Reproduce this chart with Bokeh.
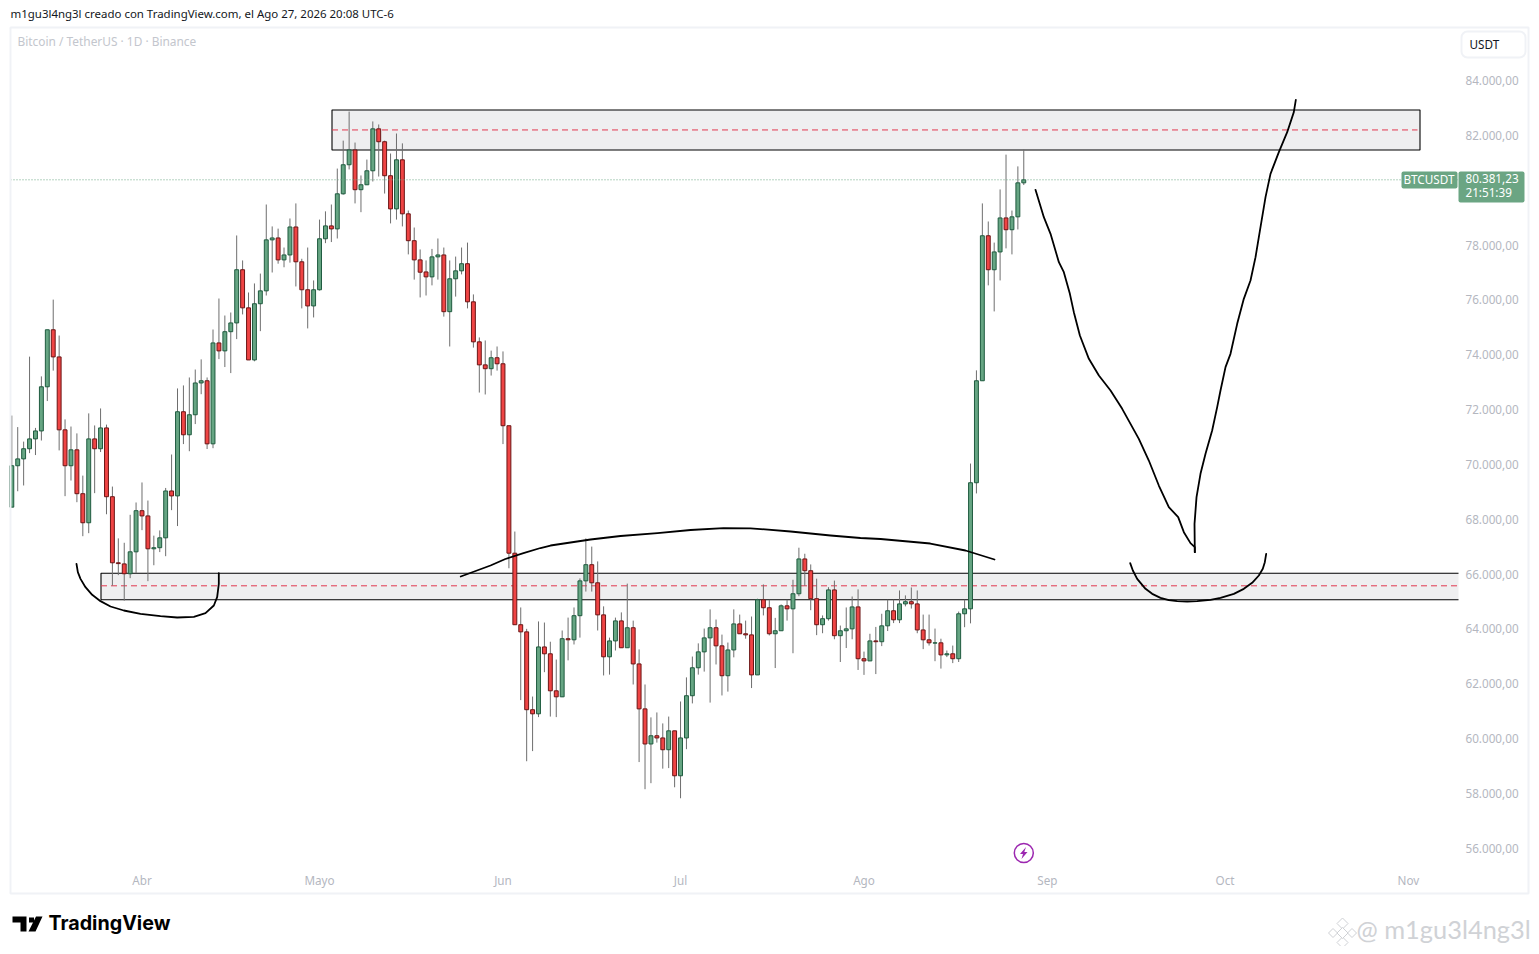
from bokeh.plotting import figure
from bokeh.models import (Range1d, LinearAxis, FixedTicker, Label, BoxAnnotation,
                          PolyAnnotation, ColumnDataSource)
from bokeh.embed import file_html
from bokeh.resources import INLINE

OPEN = [68440,69950,70200,70570,70930,71220,72830,74910,73920,71260,
69950,70530,68930,67870,70930,70570,71330,68820,66410,66370,
66010,66810,68310,68120,66920,66960,67320,69030,68850,71920,
71080,71810,72970,73050,70750,74430,74140,74840,75160,77100,
75710,73810,75860,76330,78190,78260,77460,77640,78660,77390,
76370,75780,76370,78230,78700,78590,79870,80930,81470,80020,
80200,80710,82240,81770,80530,79320,81110,79140,78160,77460,
77020,76840,77570,77640,75570,76770,77060,77320,75930,74470,
73630,73490,73890,73670,71410,66760,64150,63890,61050,60900,
63340,63090,61740,61520,63640,63600,64480,65750,66340,65680,
64510,62980,63560,64290,63310,64040,62720,61080,59800,60100,
60020,59590,60280,58640,60020,61560,62580,63160,63670,64040,
63380,62290,63230,64180,63820,63780,62320,65060,64770,63820,
63930,64840,64730,65280,66550,66120,65100,64150,64370,65420,
63750,63930,64000,64800,62910,62830,63560,63530,64110,64660,
64330,64910,64990,64910,63960,63600,63480,63490,63050,63090,
62910,64550,64730,69330,73050,78340,77100,77750,78990,78560,
79030,80270]
HIGH = [71780,71360,70830,73930,71330,73210,74910,76010,74700,71640,
71380,71130,69590,71860,71420,72040,71450,69190,67300,67140,
68160,68610,69340,68680,67400,67590,69140,70360,72770,72880,
73170,73460,73830,73170,74920,76050,75430,75540,78350,77440,
76270,76600,76960,79480,78680,78600,77910,78970,79520,77500,
77910,76710,78930,79230,79480,80790,81810,82870,81740,80540,
81120,82510,82400,81810,81340,82070,81710,79260,78640,77840,
77440,77860,78240,77910,77440,77580,77910,78090,76200,74630,
74520,74150,74300,74120,71410,67550,64780,64000,61530,64270,
64230,63530,62880,63940,64410,64780,65840,67300,67000,66460,
64820,63680,64410,64600,65650,64300,63250,61970,60770,60950,
60550,60800,60280,61350,62230,62990,63470,64010,64710,64340,
63790,63500,64710,64520,64300,64450,65100,65620,65060,64400,
64890,65060,65790,66960,66740,66350,65830,64490,65520,65760,
64120,64780,65180,65440,63170,63820,64070,64550,65060,65060,
65400,65220,65510,65400,64520,64520,64010,63640,63210,63390,
64630,65060,70030,73430,79520,78860,78090,80030,81300,79260,
80870,81490]
LOW = [68440,69020,69230,70410,70340,70870,72310,73420,70510,68840,
69410,68620,67380,67490,68950,70450,68180,65580,65960,65030,
65850,66030,67600,65740,66320,66800,66650,68330,67750,70740,
70480,71470,72560,70560,70590,73840,73550,73330,74570,75470,
73810,73760,74860,76160,77000,77320,77190,77360,76490,75690,
74960,75360,76340,78070,78110,78240,79840,80760,79520,79200,
80190,80320,80500,79880,78790,78930,78680,77660,76740,76090,
76160,76530,76740,75390,74300,76120,76930,75690,74260,72620,
72550,73240,73420,70740,66210,64150,61400,59170,59540,60780,
62420,60800,60780,61510,62850,63430,63680,65360,65360,63940,
62300,62330,63210,63310,63310,61970,59140,58150,58370,59850,
58900,58920,58220,57820,59610,61280,62330,62440,61310,62700,
61570,61710,62960,63820,63640,61840,62320,64490,63760,62570,
63930,64300,63110,65190,65570,64680,63770,63840,64300,63620,
62790,63300,63620,62500,62320,62830,62350,63370,63920,64210,
64210,64820,64740,63840,63260,63390,62820,62550,62970,62750,
62790,64060,64200,68940,73050,76530,75580,76710,77880,77660,
78570,80190]
CLOSE = [69950,70200,70570,70930,71220,72830,74910,73920,71260,69950,
70530,68930,67870,70930,70570,71330,68820,66410,66380,66010,
66810,68310,68120,66920,66960,67320,69030,68850,71920,71080,
71810,72970,73050,70750,74430,74140,74840,75160,77100,75710,
73810,75860,76330,78190,78260,77460,77640,78660,77390,76370,
75780,76370,78230,78700,78590,79870,80930,81470,80020,80200,
80710,82240,81770,80530,79320,81110,79140,78160,77460,77010,
76840,77570,77640,75570,76770,77060,77320,75930,74470,73630,
73490,73890,73670,71410,66760,64150,63890,61050,60900,63340,
63090,61740,61520,63640,63600,64480,65750,66340,65680,64510,
62980,63560,64290,63310,64040,62720,61080,59800,60100,60020,
59590,60280,58640,60020,61560,62580,63160,63670,64040,63380,
62290,63230,64180,63820,63780,62320,65060,64770,63820,63930,
64840,64730,65280,66550,66120,65100,64150,64370,65420,63750,
63930,64000,64800,62910,62830,63560,63530,64110,64660,64330,
64910,64990,64910,63960,63600,63490,63490,63050,63090,62910,
64550,64730,69330,73050,78340,77100,77750,78990,78560,79030,
80270,80381]

PRICE_TICKS = [84000,82000,78000,76000,74000,72000,70000,68000,66000,64000,62000,60000,58000,56000]
PRICE_LABELS = ["84.000,00","82.000,00","78.000,00","76.000,00","74.000,00","72.000,00","70.000,00",
                "68.000,00","66.000,00","64.000,00","62.000,00","60.000,00","58.000,00","56.000,00"]
MONTH_TICKS = [22,52,83,113,144,175,205,236]
MONTH_LABELS = ["Abr","Mayo","Jun","Jul","Ago","Sep","Oct","Nov"]
LAST_PRICE = 80381.23

ZONE_HIGH_TOP, ZONE_HIGH_MID, ZONE_HIGH_BOTTOM = 82930, 82200, 81470
ZONE_LOW_TOP, ZONE_LOW_MID, ZONE_LOW_BOTTOM = 66030, 65570, 65060

BRACKET_X = [10.93,11.16,11.61,12.45,13.58,14.99,16.68,18.93,21.75,25.12,27.94,30.76,32.73,34.14,34.70,34.98,34.98]
BRACKET_Y = [66372,66068,65824,65520,65241,65010,64815,64669,64548,64463,64414,64438,64572,64852,65156,65642,66031]
ARCH_X = [75.86,80.89,83.4,86.46,89.34,91.03,97.79,102.86,109.11,114.7,120.27,124.82,131.6,138.34,143.4,146.8,155.2,161.15,166.05]
ARCH_Y = [65910,66311,66548,66760,66949,67040,67259,67387,67489,67606,67672,67668,67551,67405,67314,67278,67113,66858,66530]
DOWN_X = [172.98,174.39,175.52,176.93,177.77,178.79,179.46,180.48,182.0,183.69,185.66,187.63,190.44,
          192.13,193.82,195.51,197.09,198.05,199.17,199.9,199.9]
DOWN_Y = [80015,79018,78410,77377,77012,76221,75553,74701,73850,73242,72695,72026,70932,
          70141,69229,68439,68074,67527,67126,66980,66797]
UP_X = [199.9,199.85,200.19,200.86,201.71,202.83,203.68,204.24,205.09,205.93,207.06,208.18,209.31,
        210.16,211.0,211.85,212.69,214.1,215.51,216.63,216.97]
UP_Y = [66797,67831,68804,69655,70385,71236,72087,72695,73546,74033,75127,76039,76708,
        77559,78653,79748,80599,81389,82119,82849,83299]
BOWL_X = [188.98,189.43,190.16,191.57,192.7,194.1,195.51,196.92,198.61,200.3,202.55,204.24,206.5,208.18,209.59,210.72,211.39,211.73,211.96]
BOWL_Y = [66396,66129,65825,65460,65277,65131,65046,65010,64998,65010,65058,65131,65277,65460,65679,65946,66190,66433,66737]

W, H = 1531, 946
FR, FB = 1458, 866          # right and bottom of the price pane on the page
X0, XPX = 11.3, 5.918
Y84, YPX = 80.1, 36.48

def dx(px):
    return (px - X0) / XPX

def dy(py):
    return 84000 - (py - Y84) * YPX

p = figure(width=W, height=H, output_backend="svg", toolbar_location=None,
           x_range=Range1d(dx(0), dx(W)), y_range=Range1d(dy(H), dy(0)),
           x_axis_type=None, y_axis_type=None,
           min_border_left=0, min_border_right=0, min_border_top=0, min_border_bottom=0,
           background_fill_color="white", border_fill_color="white")
p.outline_line_color = None
p.grid.visible = False

FONT = "Noto Sans"
AXC = "#b4b7bf"

ax_r = LinearAxis(ticker=FixedTicker(ticks=PRICE_TICKS), fixed_location=dx(FR),
                  major_label_overrides=dict(zip(PRICE_TICKS, PRICE_LABELS)), major_label_standoff=7)
ax_b = LinearAxis(ticker=FixedTicker(ticks=MONTH_TICKS), fixed_location=dy(FB),
                  major_label_overrides=dict(zip(MONTH_TICKS, MONTH_LABELS)), major_label_standoff=5)
for ax in (ax_r, ax_b):
    ax.axis_line_color = None
    ax.major_tick_line_color = None
    ax.minor_tick_line_color = None
    ax.major_tick_out = 0
    ax.major_tick_in = 0
    ax.major_label_text_color = AXC
    ax.major_label_text_font = FONT
    ax.major_label_text_font_size = "11.7px"
p.add_layout(ax_r, "right")
p.add_layout(ax_b, "below")

# supply / demand zones sit under the candles
p.quad(left=[dx(331.5)], right=[dx(1419.5)], top=[ZONE_HIGH_TOP], bottom=[ZONE_HIGH_BOTTOM],
       fill_color="#efeff0", line_color="black", line_width=1.1)
p.quad(left=[dx(100.5)], right=[dx(FR)], top=[ZONE_LOW_TOP], bottom=[ZONE_LOW_BOTTOM],
       fill_color="#efeff0", line_color=None)
p.line([dx(FR), dx(100.5), dx(100.5), dx(FR)],
       [ZONE_LOW_TOP, ZONE_LOW_TOP, ZONE_LOW_BOTTOM, ZONE_LOW_BOTTOM], line_color="black", line_width=1.1)
p.line([dx(331.5), dx(1417)], [ZONE_HIGH_MID] * 2, line_color="#e2384f", line_width=1, line_dash="6 4")
p.line([dx(100.5), dx(1457)], [ZONE_LOW_MID] * 2, line_color="#e2384f", line_width=1, line_dash="6 4")

idx = list(range(len(OPEN)))
up = [c >= o for o, c in zip(OPEN, CLOSE)]
src = ColumnDataSource(dict(
    x=idx, o=OPEN, h=HIGH, l=LOW, c=CLOSE,
    fill=["#66a583" if u else "#ef4444" for u in up],
    edge=["#1f5b3f" if u else "#6b1515" for u in up],
))
p.segment("x", "h", "x", "l", source=src, line_color="#6e6e6e", line_width=1)
p.vbar("x", top="o", bottom="c", width=0.66, source=src, fill_color="fill", line_color="edge", line_width=1)

# last price line
p.line([dx(10), dx(FR)], [LAST_PRICE] * 2, line_color="#6ba583", line_width=1, line_dash="1 2")

# hand drawn strokes
for xs, ys in ((BRACKET_X, BRACKET_Y), (ARCH_X, ARCH_Y), (DOWN_X, DOWN_Y), (UP_X, UP_Y), (BOWL_X, BOWL_Y)):
    p.line(xs, ys, line_color="black", line_width=1.8, line_join="round", line_cap="round")

# event icon
p.scatter([dx(1023.3)], [dy(852.5)], size=19, marker="circle", fill_color="white",
          line_color="#9c27b0", line_width=1.5)
p.patch([dx(v) for v in (1025.5, 1019.5, 1022.5, 1021, 1027, 1023.8)],
        [dy(v) for v in (846.5, 853.5, 853.5, 858.5, 851.5, 851.5)], fill_color="#9c27b0", line_color=None)

def label(px, py, text, color="#131722", size="11.7px", align="left", style="normal", font=FONT):
    p.add_layout(Label(x=dx(px - 1), y=dy(py - 1.5), text=text, text_color=color,
                       text_font_size=size, text_align=align, text_baseline="middle",
                       text_font_style=style, text_font=font))

def box(l, r, t, b, fill=None, line=None, lw=1, radius=0):
    p.add_layout(BoxAnnotation(left=dx(l), right=dx(r), top=dy(t), bottom=dy(b),
                               fill_color=fill, fill_alpha=1 if fill else 0,
                               line_color=line, line_width=lw, line_alpha=1 if line else 0,
                               border_radius=radius, level="annotation"))

box(10, 1528, 27, 893, line="#f0f2f6", lw=2)
box(1461, 1525, 31, 57, fill="white", line="#f0f2f6", lw=2, radius=6)
label(1470, 44.5, "USDT")

box(1401, 1457, 171, 188, fill="#6ba583", radius=2)
box(1458, 1524, 171, 202, fill="#6ba583", radius=2)
label(1404, 180, "BTCUSDT", color="white")
label(1466, 179, "80.381,23", color="white")
label(1466, 192.5, "21:51:39", color="white")

label(11, 14.5, "m1gu3l4ng3l creado con TradingView.com, el Ago 27, 2026 20:08 UTC-6", size="11.46px")
label(18, 42, "Bitcoin / TetherUS · 1D · Binance", color="#c3c6cd", size="11.9px")

# TradingView wordmark
def poly(xs, ys, fill, line=None):
    p.add_layout(PolyAnnotation(xs=[dx(v) for v in xs], ys=[dy(v) for v in ys],
                                fill_color=fill, fill_alpha=1,
                                line_color=line, line_alpha=1 if line else 0, level="annotation"))

poly([12, 26, 26, 20, 20, 12], [916, 916, 931, 931, 922, 922], "#000000")
poly([35.5, 42, 35, 28], [916, 916, 931, 931], "#000000")
poly([28.5, 33.5, 33.5, 28.5], [917, 917, 922, 922], "#000000")
label(49, 924, "TradingView", color="#000000", size="19.7px", style="bold", font="Inter")

# watermark
for cx, cy, r in ((1342, 923, 5.5), (1342, 942, 5.5), (1332.5, 932.5, 4.5), (1351.5, 932.5, 4.5), (1342, 932.5, 5.5)):
    poly([cx - r, cx, cx + r, cx], [cy, cy - r, cy, cy + r], "#ffffff", "#cfd1d5")
label(1357, 930, "@ m1gu3l4ng3l", color="#d0d2d6", size="25.4px", font="Lato")

open("out.html", "w").write(file_html(p, INLINE))
